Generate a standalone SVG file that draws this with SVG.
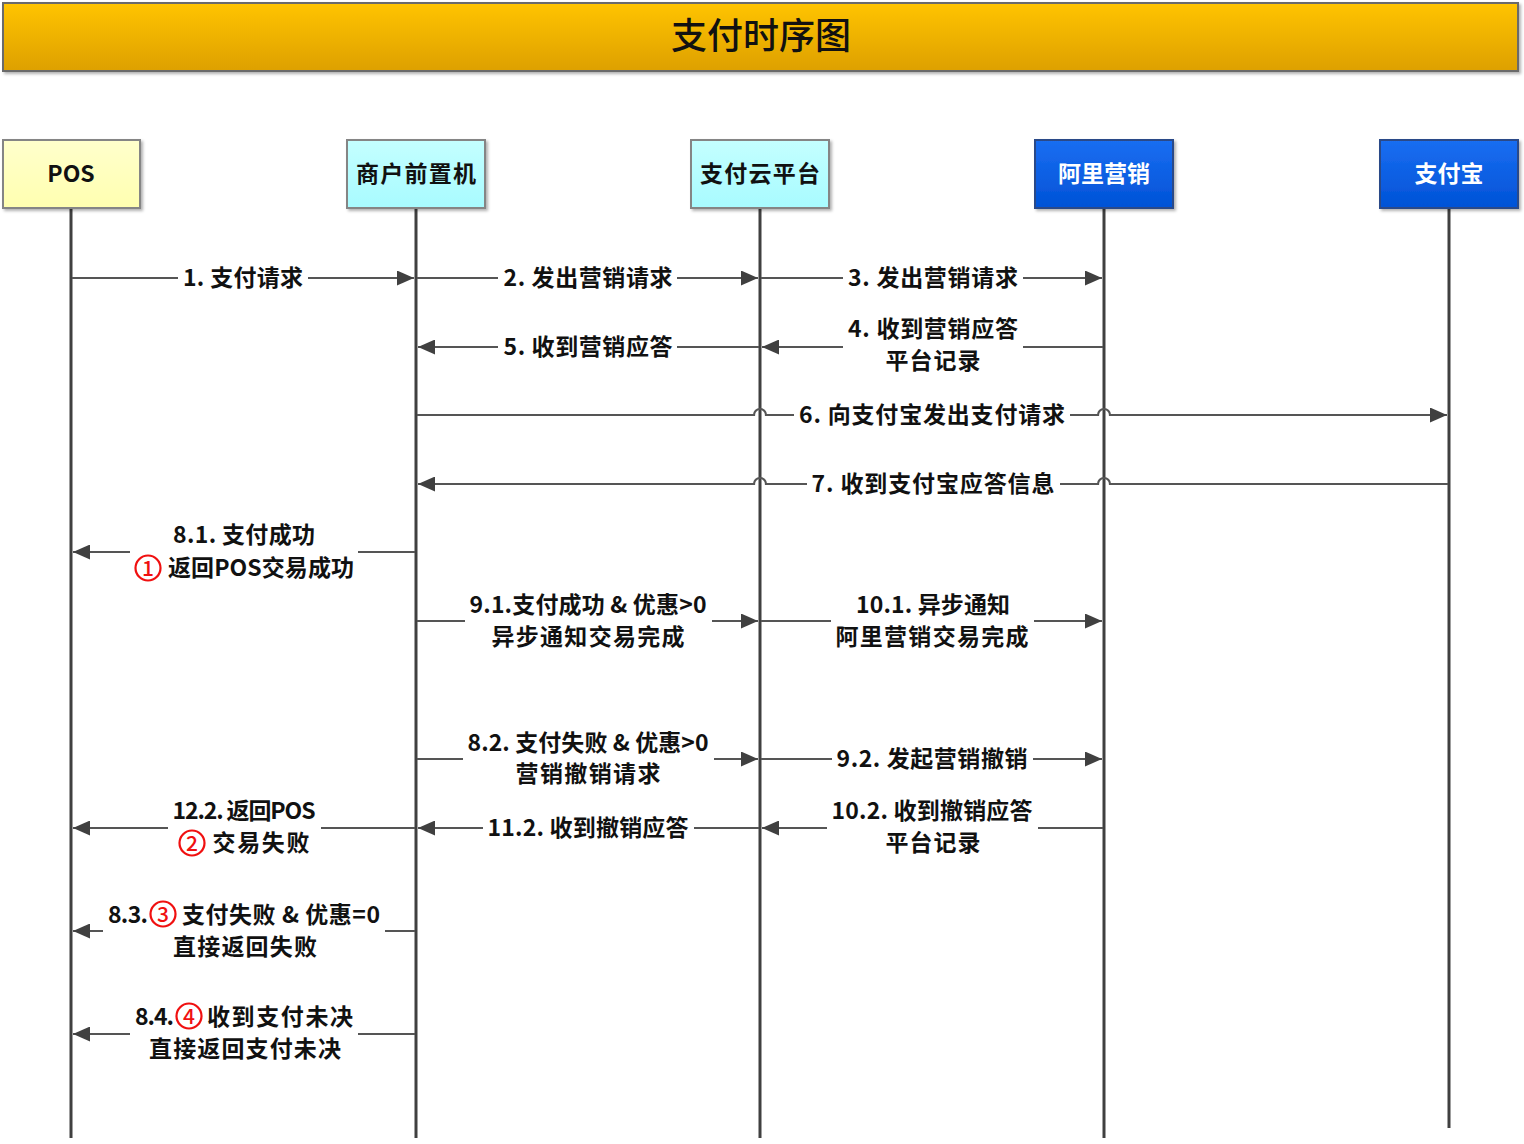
<svg xmlns="http://www.w3.org/2000/svg" width="1524" height="1144" viewBox="0 0 1524 1144">
<defs>
<linearGradient id="gTitle" x1="0" y1="0" x2="0" y2="1"><stop offset="0" stop-color="#FFC400"/><stop offset="1" stop-color="#DDA000"/></linearGradient>
<linearGradient id="gYellow" x1="0" y1="0" x2="0" y2="1"><stop offset="0" stop-color="#FFFFCC"/><stop offset="1" stop-color="#FFFFB0"/></linearGradient>
<linearGradient id="gCyan" x1="0" y1="0" x2="0" y2="1"><stop offset="0" stop-color="#C4FFFF"/><stop offset="1" stop-color="#A8FBFF"/></linearGradient>
<linearGradient id="gBlue" x1="0" y1="0" x2="0" y2="1"><stop offset="0" stop-color="#1A6EF2"/><stop offset="1" stop-color="#0052D6"/></linearGradient>
<filter id="sh" x="-10%" y="-10%" width="130%" height="140%"><feDropShadow dx="2" dy="2" stdDeviation="1.5" flood-color="#000" flood-opacity="0.3"/></filter>
<marker id="ah" markerWidth="17" markerHeight="15" refX="17" refY="7.5" orient="auto" markerUnits="userSpaceOnUse"><path d="M0,0 L17,7.5 L0,15 z" fill="#404040"/></marker>
<style>
.box{stroke:#858585;stroke-width:2}
.boxb{stroke:#2a4a88;stroke-width:2}
.nt{font-family:"Noto Sans CJK SC","Liberation Sans",sans-serif;font-weight:700;font-size:23px;text-anchor:middle}
.life{stroke:#404040;stroke-width:3;fill:none}
.msg{stroke:#555555;stroke-width:2.2;fill:none;marker-end:url(#ah)}
.lb{font-family:"Noto Sans CJK SC","Liberation Sans",sans-serif;font-weight:700;font-size:23px;fill:#111;text-anchor:middle}
.ls{font-family:"Noto Sans CJK SC","Liberation Sans",sans-serif;font-weight:700;font-size:23px;fill:#111;text-anchor:start}
.cc{fill:#fff;stroke:#F01010;stroke-width:2.2}
.cd{font-family:"Noto Sans CJK SC","Liberation Sans",sans-serif;font-weight:500;font-size:21px;fill:#F01010;text-anchor:middle}
</style>
</defs>
<rect width="1524" height="1144" fill="#fff"/>

<g id="title">
<rect x="3" y="3" width="1515" height="68" fill="url(#gTitle)" stroke="#6a6a6a" stroke-width="2" filter="url(#sh)"/>
<text x="761" y="49" font-family="Noto Sans CJK SC, sans-serif" font-weight="500" font-size="36" text-anchor="middle" fill="#111">支付时序图</text>
</g>

<g id="lifelines">
<path class="life" d="M71,208 V1138"/>
<path class="life" d="M416,208 V1138"/>
<path class="life" d="M760,208 V1138"/>
<path class="life" d="M1104,208 V1138"/>
<path class="life" d="M1449,208 V1128"/>
</g>

<g id="node-pos">
<rect class="box" x="3" y="140" width="137" height="68" fill="url(#gYellow)" filter="url(#sh)"/>
<text class="nt" x="71" y="182" font-size="20" fill="#111">POS</text>
</g>
<g id="node-merchant">
<rect class="box" x="347" y="140" width="138" height="68" fill="url(#gCyan)" filter="url(#sh)"/>
<text class="nt" x="416" y="182" fill="#111" textLength="120" lengthAdjust="spacing">商户前置机</text>
</g>
<g id="node-cloud">
<rect class="box" x="691" y="140" width="138" height="68" fill="url(#gCyan)" filter="url(#sh)"/>
<text class="nt" x="760" y="182" fill="#111" textLength="120" lengthAdjust="spacing">支付云平台</text>
</g>
<g id="node-ali">
<rect class="boxb" x="1035" y="140" width="138" height="68" fill="url(#gBlue)" filter="url(#sh)"/>
<text class="nt" x="1104" y="182" fill="#fff">阿里营销</text>
</g>
<g id="node-alipay">
<rect class="boxb" x="1380" y="140" width="138" height="68" fill="url(#gBlue)" filter="url(#sh)"/>
<text class="nt" x="1449" y="182" fill="#fff">支付宝</text>
</g>

<g id="connectors">
<path class="msg" d="M72,278 H178 M308,278 H414"/>
<path class="msg" d="M417,278 H498 M677,278 H758"/>
<path class="msg" d="M761,278 H843 M1023,278 H1102"/>
<path class="msg" d="M1103,347 H1023 M843,347 H762"/>
<path class="msg" d="M759,347 H677 M498,347 H418"/>
<path class="msg" d="M417,415 H754 A6,6 0 0 1 766,415 H794 M1070,415 H1098 A6,6 0 0 1 1110,415 H1447"/>
<path class="msg" d="M1448,484 H1110 A6,6 0 0 0 1098,484 H1060 M807,484 H766 A6,6 0 0 0 754,484 H418"/>
<path class="msg" d="M415,552 H358 M130,552 H73"/>
<path class="msg" d="M417,621 H465 M712,621 H758"/>
<path class="msg" d="M761,621 H831 M1034,621 H1102"/>
<path class="msg" d="M417,759 H463 M714,759 H758"/>
<path class="msg" d="M761,759 H832 M1033,759 H1102"/>
<path class="msg" d="M1103,828 H1038 M827,828 H762"/>
<path class="msg" d="M759,828 H694 M483,828 H418"/>
<path class="msg" d="M415,828 H321 M168,828 H73"/>
<path class="msg" d="M415,931 H385 M103,931 H73"/>
<path class="msg" d="M415,1034 H358 M130,1034 H73"/>
</g>

<g id="labels">
<text class="lb" x="243" y="286" textLength="120" lengthAdjust="spacing">1. 支付请求</text>
<text class="lb" x="588" y="286" textLength="169" lengthAdjust="spacing">2. 发出营销请求</text>
<text class="lb" x="933" y="286" textLength="170" lengthAdjust="spacing">3. 发出营销请求</text>
<text class="lb" x="933" y="337" textLength="170" lengthAdjust="spacing">4. 收到营销应答</text>
<text class="lb" x="933" y="369" textLength="95" lengthAdjust="spacing">平台记录</text>
<text class="lb" x="588" y="355" textLength="169" lengthAdjust="spacing">5. 收到营销应答</text>
<text class="lb" x="932" y="423" textLength="266" lengthAdjust="spacing">6. 向支付宝发出支付请求</text>
<text class="lb" x="933" y="492" textLength="243" lengthAdjust="spacing">7. 收到支付宝应答信息</text>

<text class="lb" x="244" y="543" textLength="142" lengthAdjust="spacing">8.1. 支付成功</text>
<circle class="cc" cx="148" cy="568" r="12.5"/>
<text class="cd" x="148" y="575.5">1</text>
<text class="lb" x="261" y="576" textLength="186" lengthAdjust="spacing">返回POS交易成功</text>

<text class="lb" x="588" y="613" textLength="237" lengthAdjust="spacing">9.1.支付成功 &amp; 优惠&gt;0</text>
<text class="lb" x="588" y="645" textLength="193" lengthAdjust="spacing">异步通知交易完成</text>
<text class="lb" x="933" y="613" textLength="154" lengthAdjust="spacing">10.1. 异步通知</text>
<text class="lb" x="932" y="645" textLength="193" lengthAdjust="spacing">阿里营销交易完成</text>

<text class="lb" x="588" y="751" textLength="241" lengthAdjust="spacing">8.2. 支付失败 &amp; 优惠&gt;0</text>
<text class="lb" x="588" y="782" textLength="145" lengthAdjust="spacing">营销撤销请求</text>
<text class="lb" x="932" y="767" textLength="191" lengthAdjust="spacing">9.2. 发起营销撤销</text>
<text class="lb" x="932" y="819" textLength="201" lengthAdjust="spacing">10.2. 收到撤销应答</text>
<text class="lb" x="933" y="851" textLength="95" lengthAdjust="spacing">平台记录</text>
<text class="lb" x="588" y="836" textLength="201" lengthAdjust="spacing">11.2. 收到撤销应答</text>

<text class="lb" x="244" y="819" textLength="143" lengthAdjust="spacing">12.2. 返回POS</text>
<circle class="cc" cx="192" cy="843" r="12.5"/>
<text class="cd" x="192" y="850.5">2</text>
<text class="lb" x="261" y="851" textLength="97" lengthAdjust="spacing">交易失败</text>

<text class="ls" x="108" y="923" textLength="40" lengthAdjust="spacing">8.3.</text>
<circle class="cc" cx="163" cy="914" r="12.5"/>
<text class="cd" x="163" y="921.5">3</text>
<text class="ls" x="182" y="923" textLength="198" lengthAdjust="spacing">支付失败 &amp; 优惠=0</text>
<text class="lb" x="245" y="955" textLength="144" lengthAdjust="spacing">直接返回失败</text>

<text class="ls" x="135" y="1025" textLength="39" lengthAdjust="spacing">8.4.</text>
<circle class="cc" cx="189" cy="1016" r="12.5"/>
<text class="cd" x="189" y="1023.5">4</text>
<text class="ls" x="207" y="1025" textLength="146" lengthAdjust="spacing">收到支付未决</text>
<text class="lb" x="245" y="1057" textLength="192" lengthAdjust="spacing">直接返回支付未决</text>
</g>
</svg>
